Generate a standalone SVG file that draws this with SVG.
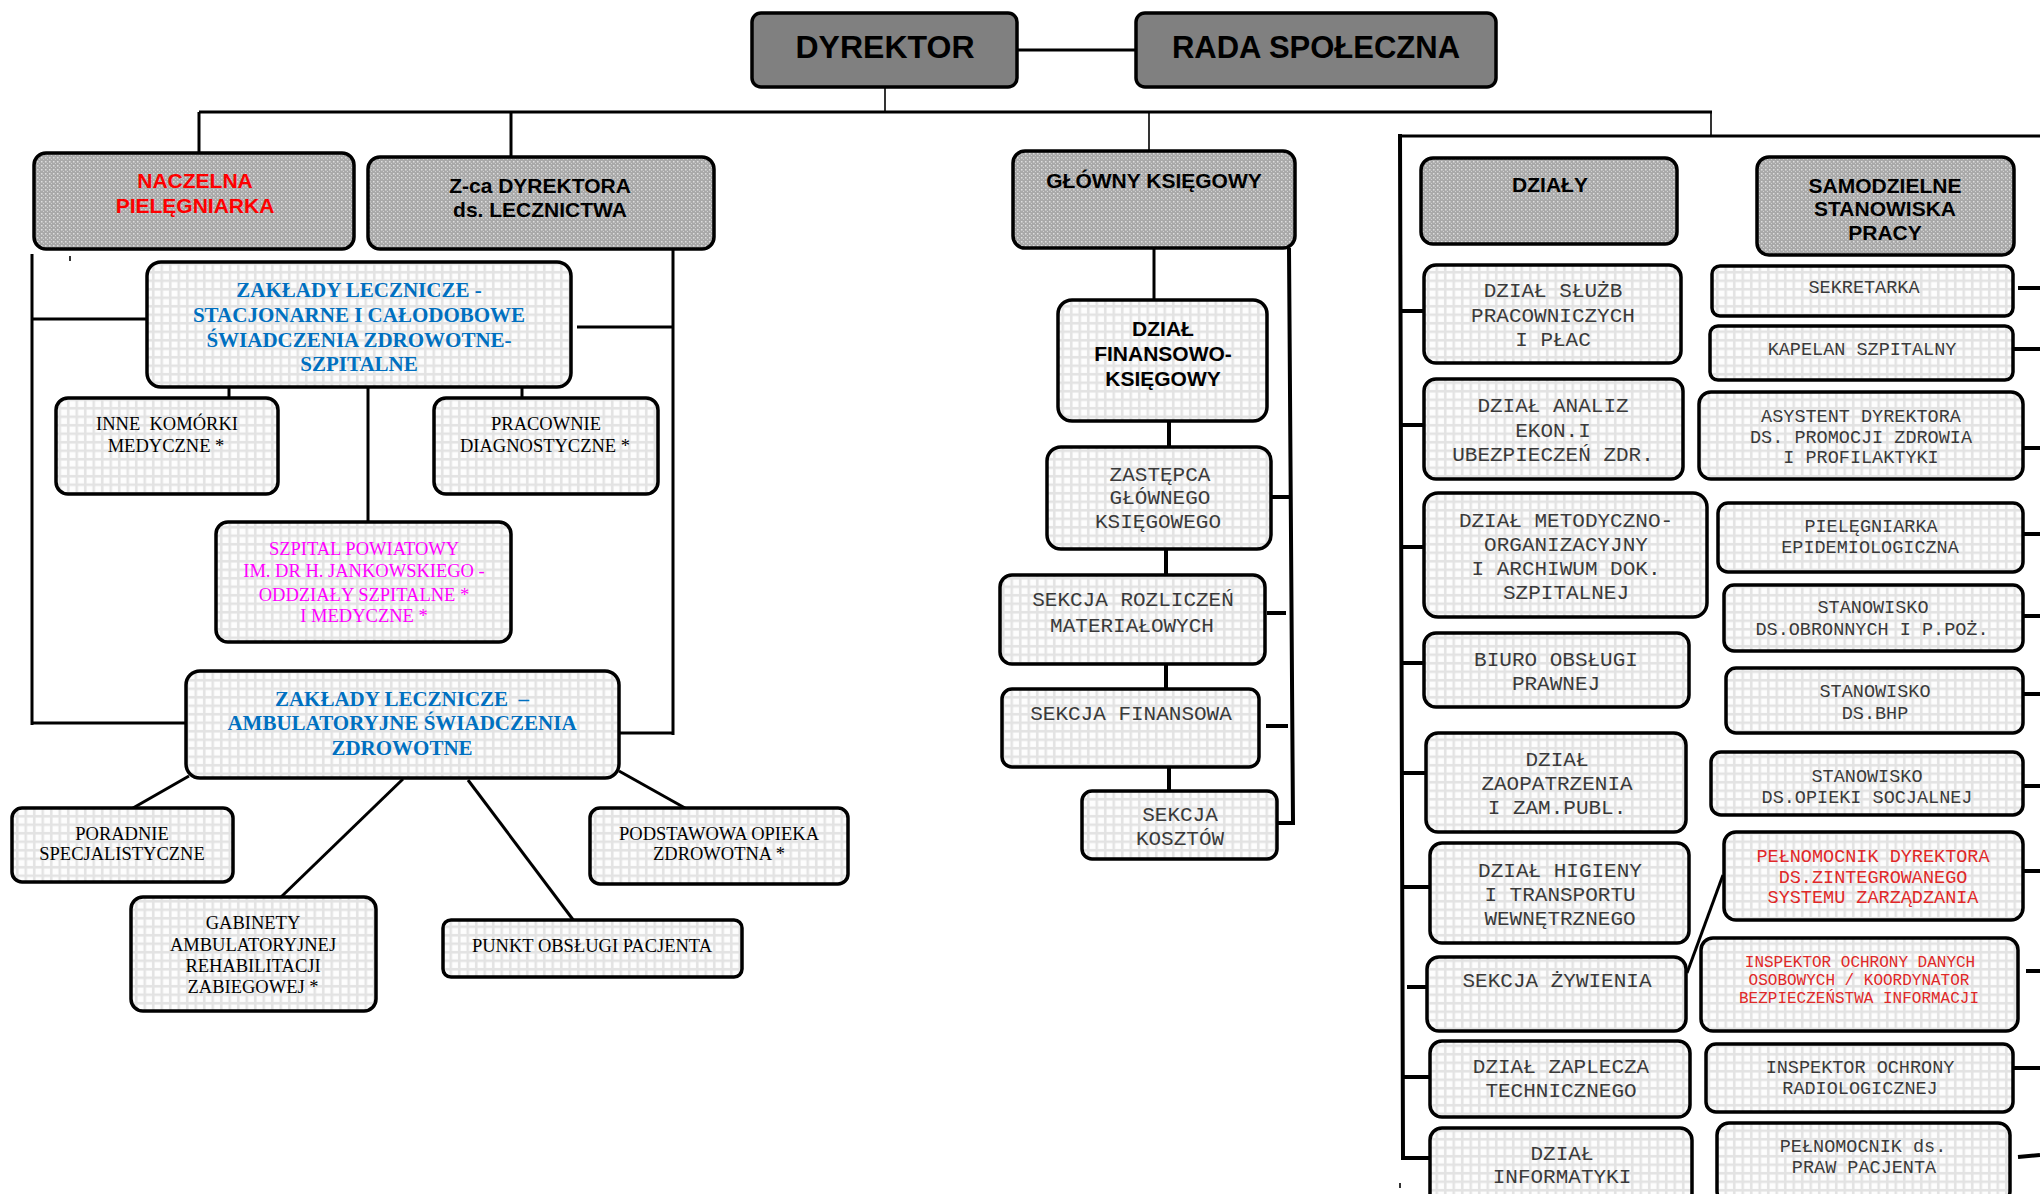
<svg xmlns="http://www.w3.org/2000/svg" width="2040" height="1194" viewBox="0 0 2040 1194">
<defs>
<pattern id="grid" width="8.5" height="8.5" patternUnits="userSpaceOnUse"><rect width="8.5" height="8.5" fill="#e3e3e3"/><rect x="1.5" y="1.5" width="6" height="6" fill="#fdfdfd"/></pattern>
<pattern id="dots" width="4" height="4" patternUnits="userSpaceOnUse"><rect width="4" height="4" fill="#a9a9a9"/><rect x="1" y="1" width="1.5" height="1.5" fill="#dedede"/><rect x="3" y="3" width="1" height="1" fill="#d0d0d0"/></pattern>
</defs>
<style>
.hb{fill:#808080;stroke:#000;stroke-width:3.5}
.hd{fill:url(#dots);stroke:#000;stroke-width:3.5}
.bx{fill:url(#grid);stroke:#000;stroke-width:3.5}
.ln{stroke:#000;stroke-width:3;fill:none}
.th{stroke-width:1.6}
.tk{stroke-width:4}
.ab{font-family:"Liberation Sans",Arial,sans-serif;font-weight:bold;text-anchor:middle;fill:#000}
.tb{font-family:"Liberation Serif","Times New Roman",serif;font-weight:bold;font-size:21px;text-anchor:middle;fill:#0070c0}
.tr{font-family:"Liberation Serif","Times New Roman",serif;font-size:18.5px;text-anchor:middle;fill:#000}
.mg{fill:#ff00ff}
.mo{font-family:"Liberation Mono","Courier New",monospace;font-size:21px;text-anchor:middle;fill:#3a3a3a}
.ms{font-size:18.5px}
.mx{font-size:16px}
.rd{fill:#e02828}
</style>
<rect width="2040" height="1194" fill="#fff"/>
<g id="connectors">
<path class="ln" d="M1017 50H1136"/>
<path class="ln th" d="M885 87V112"/>
<path class="ln" d="M199 112H1712"/>
<path class="ln" d="M199 112V153"/>
<path class="ln" d="M511 112V157"/>
<path class="ln th" d="M1149 112V151"/>
<path class="ln th" d="M1711 112V136"/>
<path class="ln" d="M32 254V725"/>
<path class="ln" d="M32 319H147"/>
<path class="ln" d="M32 723H187"/>
<path class="ln" d="M673 249V735"/>
<path class="ln" d="M620 733H674"/>
<path class="ln" d="M577 327H673"/>
<path class="ln" d="M229 387V398"/>
<path class="ln" d="M522 387V398"/>
<path class="ln" d="M368 387V522"/>
<path class="ln" d="M189 776L133 808"/>
<path class="ln" d="M403 779L280 898"/>
<path class="ln" d="M468 780L574 921"/>
<path class="ln" d="M619 771L685 808"/>
<path class="ln" d="M1154 248V300"/>
<path class="ln tk" d="M1169 421V447"/>
<path class="ln tk" d="M1166 549V575"/>
<path class="ln tk" d="M1166 664V689"/>
<path class="ln tk" d="M1169 767V791"/>
<path class="ln tk" d="M1289 248L1293 823H1278"/>
<path class="ln tk" d="M1271 497H1292"/>
<path class="ln tk" d="M1267 613H1286"/>
<path class="ln tk" d="M1266 726H1288"/>
<path class="ln" d="M1399 136H2040"/>
<path class="ln tk" d="M1400 134L1403 1158H1430"/>
<path class="ln tk" d="M1399 311H1424"/>
<path class="ln tk" d="M1399 425H1424"/>
<path class="ln tk" d="M1400 547H1424"/>
<path class="ln tk" d="M1400 663H1424"/>
<path class="ln tk" d="M1401 773H1426"/>
<path class="ln tk" d="M1401 887H1430"/>
<path class="ln tk" d="M1407 987H1427"/>
<path class="ln tk" d="M1401 1077H1430"/>
<path class="ln" d="M1687 973L1723 875"/>
<path class="ln tk" d="M2018 288H2040"/>
<path class="ln tk" d="M2013 349H2040"/>
<path class="ln tk" d="M2023 448H2040"/>
<path class="ln tk" d="M2023 534H2040"/>
<path class="ln tk" d="M2018 616H2040"/>
<path class="ln tk" d="M2023 694H2040"/>
<path class="ln tk" d="M2021 786H2040"/>
<path class="ln tk" d="M2023 871H2040"/>
<path class="ln tk" d="M2026 971H2040"/>
<path class="ln tk" d="M2013 1068H2040"/>
<path class="ln tk" d="M2018 1157L2040 1155"/>
<path class="ln th" d="M70 256V261"/>
<path class="ln th" d="M1400 1183V1188"/>
</g>
<g id="dyrektor"><rect class="hb" x="752" y="13" width="265" height="74" rx="9"/><text class="ab" x="885" y="58" font-size="32">DYREKTOR</text></g>
<g id="rada"><rect class="hb" x="1136" y="13" width="360" height="74" rx="9"/><text class="ab" x="1316" y="58" font-size="31">RADA SPOŁECZNA</text></g>
<g id="naczelna"><rect class="hd" x="34" y="153" width="320" height="96" rx="12"/><text class="ab" font-size="21" style="fill:#ff0000"><tspan x="195" y="188">NACZELNA</tspan><tspan x="195" y="213">PIELĘGNIARKA</tspan></text></g>
<g id="zca"><rect class="hd" x="368" y="157" width="346" height="92" rx="12"/><text class="ab" font-size="21"><tspan x="540" y="193">Z-ca DYREKTORA</tspan><tspan x="540" y="217">ds. LECZNICTWA</tspan></text></g>
<g id="stacjonarne"><rect class="bx" x="147" y="262" width="424" height="125" rx="14"/><text class="tb"><tspan x="359" y="297">ZAKŁADY LECZNICZE -</tspan><tspan x="359" y="322">STACJONARNE I CAŁODOBOWE</tspan><tspan x="359" y="347">ŚWIADCZENIA ZDROWOTNE-</tspan><tspan x="359" y="371">SZPITALNE</tspan></text></g>
<g id="inne"><rect class="bx" x="56" y="398" width="222" height="96" rx="12"/><text class="tr"><tspan x="167" y="430">INNE&#160; KOMÓRKI</tspan><tspan x="166" y="452">MEDYCZNE *</tspan></text></g>
<g id="pracownie"><rect class="bx" x="434" y="398" width="224" height="96" rx="12"/><text class="tr"><tspan x="546" y="430">PRACOWNIE</tspan><tspan x="545" y="452">DIAGNOSTYCZNE *</tspan></text></g>
<g id="szpital"><rect class="bx" x="216" y="522" width="295" height="120" rx="12"/><text class="tr mg"><tspan x="364" y="555">SZPITAL POWIATOWY</tspan><tspan x="364" y="577">IM. DR H. JANKOWSKIEGO -</tspan><tspan x="364" y="601">ODDZIAŁY SZPITALNE *</tspan><tspan x="364" y="622">I MEDYCZNE *</tspan></text></g>
<g id="ambulatoryjne"><rect class="bx" x="186" y="671" width="433" height="107" rx="14"/><text class="tb"><tspan x="402" y="706">ZAKŁADY LECZNICZE&#160; –</tspan><tspan x="402" y="730">AMBULATORYJNE ŚWIADCZENIA</tspan><tspan x="402" y="755">ZDROWOTNE</tspan></text></g>
<g id="poradnie"><rect class="bx" x="12" y="808" width="221" height="74" rx="10"/><text class="tr"><tspan x="122" y="840">PORADNIE</tspan><tspan x="122" y="860">SPECJALISTYCZNE</tspan></text></g>
<g id="gabinety"><rect class="bx" x="131" y="897" width="245" height="114" rx="12"/><text class="tr"><tspan x="253" y="929">GABINETY</tspan><tspan x="253" y="951">AMBULATORYJNEJ</tspan><tspan x="253" y="972">REHABILITACJI</tspan><tspan x="253" y="993">ZABIEGOWEJ *</tspan></text></g>
<g id="punkt"><rect class="bx" x="443" y="920" width="299" height="57" rx="8"/><text class="tr" x="592" y="952">PUNKT OBSŁUGI PACJENTA</text></g>
<g id="podstawowa"><rect class="bx" x="590" y="808" width="258" height="76" rx="10"/><text class="tr"><tspan x="719" y="840">PODSTAWOWA OPIEKA</tspan><tspan x="719" y="860">ZDROWOTNA *</tspan></text></g>
<g id="glowny"><rect class="hd" x="1013" y="151" width="282" height="97" rx="12"/><text class="ab" x="1154" y="188" font-size="21">GŁÓWNY KSIĘGOWY</text></g>
<g id="finansowo"><rect class="bx" x="1058" y="300" width="209" height="121" rx="14"/><text class="ab" font-size="21"><tspan x="1163" y="336">DZIAŁ</tspan><tspan x="1163" y="361">FINANSOWO-</tspan><tspan x="1163" y="386">KSIĘGOWY</tspan></text></g>
<g id="zastepca"><rect class="bx" x="1047" y="447" width="224" height="102" rx="14"/><text class="mo"><tspan x="1160" y="481">ZASTĘPCA</tspan><tspan x="1160" y="504">GŁÓWNEGO</tspan><tspan x="1158" y="528">KSIĘGOWEGO</tspan></text></g>
<g id="rozliczen"><rect class="bx" x="1000" y="575" width="265" height="89" rx="12"/><text class="mo"><tspan x="1133" y="606">SEKCJA ROZLICZEŃ</tspan><tspan x="1132" y="632">MATERIAŁOWYCH</tspan></text></g>
<g id="finansowa"><rect class="bx" x="1002" y="689" width="257" height="78" rx="10"/><text class="mo" x="1131" y="720">SEKCJA FINANSOWA</text></g>
<g id="kosztow"><rect class="bx" x="1082" y="791" width="195" height="68" rx="10"/><text class="mo"><tspan x="1180" y="821">SEKCJA</tspan><tspan x="1180" y="845">KOSZTÓW</tspan></text></g>
<g id="dzialy"><rect class="hd" x="1421" y="158" width="256" height="86" rx="12"/><text class="ab" x="1550" y="192" font-size="21">DZIAŁY</text></g>
<g id="samodzielne"><rect class="hd" x="1757" y="157" width="257" height="98" rx="12"/><text class="ab" font-size="21"><tspan x="1885" y="193">SAMODZIELNE</tspan><tspan x="1885" y="216">STANOWISKA</tspan><tspan x="1885" y="240">PRACY</tspan></text></g>
<g id="dz-sluzb"><rect class="bx" x="1424" y="265" width="257" height="98" rx="12"/><text class="mo"><tspan x="1553" y="297">DZIAŁ SŁUŻB</tspan><tspan x="1553" y="322">PRACOWNICZYCH</tspan><tspan x="1553" y="346">I PŁAC</tspan></text></g>
<g id="dz-analiz"><rect class="bx" x="1424" y="379" width="259" height="100" rx="12"/><text class="mo"><tspan x="1553" y="412">DZIAŁ ANALIZ</tspan><tspan x="1553" y="437">EKON.I</tspan><tspan x="1553" y="461">UBEZPIECZEŃ ZDR.</tspan></text></g>
<g id="dz-metod"><rect class="bx" x="1424" y="493" width="283" height="124" rx="14"/><text class="mo"><tspan x="1566" y="527">DZIAŁ METODYCZNO-</tspan><tspan x="1566" y="551">ORGANIZACYJNY</tspan><tspan x="1566" y="575">I ARCHIWUM DOK.</tspan><tspan x="1566" y="599">SZPITALNEJ</tspan></text></g>
<g id="dz-biuro"><rect class="bx" x="1424" y="633" width="265" height="74" rx="12"/><text class="mo"><tspan x="1556" y="666">BIURO OBSŁUGI</tspan><tspan x="1556" y="690">PRAWNEJ</tspan></text></g>
<g id="dz-zaop"><rect class="bx" x="1426" y="733" width="260" height="99" rx="12"/><text class="mo"><tspan x="1557" y="766">DZIAŁ</tspan><tspan x="1557" y="790">ZAOPATRZENIA</tspan><tspan x="1557" y="814">I ZAM.PUBL.</tspan></text></g>
<g id="dz-higieny"><rect class="bx" x="1430" y="843" width="259" height="100" rx="12"/><text class="mo"><tspan x="1560" y="877">DZIAŁ HIGIENY</tspan><tspan x="1560" y="901">I TRANSPORTU</tspan><tspan x="1560" y="925">WEWNĘTRZNEGO</tspan></text></g>
<g id="sk-zyw"><rect class="bx" x="1427" y="957" width="259" height="74" rx="12"/><text class="mo" x="1557" y="987">SEKCJA ŻYWIENIA</text></g>
<g id="dz-zapl"><rect class="bx" x="1430" y="1041" width="260" height="76" rx="12"/><text class="mo"><tspan x="1561" y="1073">DZIAŁ ZAPLECZA</tspan><tspan x="1561" y="1097">TECHNICZNEGO</tspan></text></g>
<g id="dz-inf"><rect class="bx" x="1430" y="1128" width="262" height="80" rx="12"/><text class="mo"><tspan x="1562" y="1160">DZIAŁ</tspan><tspan x="1562" y="1183">INFORMATYKI</tspan></text></g>
<g id="st-sekr"><rect class="bx" x="1712" y="266" width="301" height="50" rx="8"/><text class="mo ms" x="1864" y="293">SEKRETARKA</text></g>
<g id="st-kap"><rect class="bx" x="1710" y="326" width="303" height="54" rx="8"/><text class="mo ms" x="1862" y="355">KAPELAN SZPITALNY</text></g>
<g id="st-asyst"><rect class="bx" x="1699" y="392" width="324" height="87" rx="12"/><text class="mo ms"><tspan x="1861" y="422">ASYSTENT DYREKTORA</tspan><tspan x="1861" y="443">DS. PROMOCJI ZDROWIA</tspan><tspan x="1861" y="463">I PROFILAKTYKI</tspan></text></g>
<g id="st-piel"><rect class="bx" x="1718" y="503" width="305" height="69" rx="10"/><text class="mo ms"><tspan x="1871" y="532">PIELĘGNIARKA</tspan><tspan x="1870" y="553">EPIDEMIOLOGICZNA</tspan></text></g>
<g id="st-obr"><rect class="bx" x="1724" y="585" width="299" height="66" rx="10"/><text class="mo ms"><tspan x="1873" y="613">STANOWISKO</tspan><tspan x="1872" y="635">DS.OBRONNYCH I P.POŻ.</tspan></text></g>
<g id="st-bhp"><rect class="bx" x="1726" y="668" width="297" height="65" rx="10"/><text class="mo ms"><tspan x="1875" y="697">STANOWISKO</tspan><tspan x="1875" y="719">DS.BHP</tspan></text></g>
<g id="st-socj"><rect class="bx" x="1711" y="752" width="312" height="63" rx="10"/><text class="mo ms"><tspan x="1867" y="782">STANOWISKO</tspan><tspan x="1867" y="803">DS.OPIEKI SOCJALNEJ</tspan></text></g>
<g id="st-pelzsz"><rect class="bx" x="1724" y="832" width="299" height="88" rx="12"/><text class="mo ms rd"><tspan x="1873" y="862">PEŁNOMOCNIK DYREKTORA</tspan><tspan x="1873" y="883">DS.ZINTEGROWANEGO</tspan><tspan x="1873" y="903">SYSTEMU ZARZĄDZANIA</tspan></text></g>
<g id="st-iod"><rect class="bx" x="1701" y="938" width="317" height="93" rx="12"/><text class="mo mx rd"><tspan x="1860" y="967">INSPEKTOR OCHRONY DANYCH</tspan><tspan x="1859" y="985">OSOBOWYCH / KOORDYNATOR</tspan><tspan x="1859" y="1003">BEZPIECZEŃSTWA INFORMACJI</tspan></text></g>
<g id="st-radio"><rect class="bx" x="1706" y="1044" width="307" height="68" rx="10"/><text class="mo ms"><tspan x="1860" y="1073">INSPEKTOR OCHRONY</tspan><tspan x="1860" y="1094">RADIOLOGICZNEJ</tspan></text></g>
<g id="st-praw"><rect class="bx" x="1717" y="1123" width="293" height="80" rx="12"/><text class="mo ms"><tspan x="1863" y="1152">PEŁNOMOCNIK ds.</tspan><tspan x="1864" y="1173">PRAW PACJENTA</tspan></text></g>
</svg>
